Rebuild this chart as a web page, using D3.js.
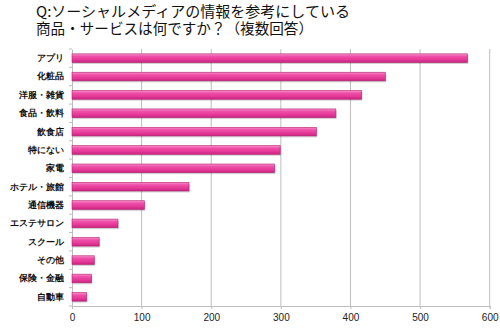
<!DOCTYPE html>
<html><head><meta charset="utf-8">
<script src="https://cdn.jsdelivr.net/npm/d3@7/dist/d3.min.js"></script>
<style>
body{margin:0;background:#fff;}
svg{display:block;font-family:"Noto Sans CJK JP","Noto Sans",sans-serif;}
</style></head><body>
<svg id="c" width="500" height="328"></svg>
<script>
const categories = ["アプリ","化粧品","洋服・雑貨","食品・飲料","飲食店","特にない","家電","ホテル・旅館","通信機器","エステサロン","スクール","その他","保険・金融","自動車"];
const values = [568,450,416,379,351,299,291,168,104,66,39,32,28,21];
const xTicks = [0,100,200,300,400,500,600];
const titleLines = ["Q:ソーシャルメディアの情報を参考にしている","商品・サービスは何ですか？（複数回答）"];

const svg = d3.select("#c");
const pL = 72, pR = 489.7, pT = 49, pB = 306;
const x = d3.scaleLinear().domain([0,600]).range([pL,pR]);
const y = d3.scaleBand().domain(categories).range([pT,pB]).paddingInner(0.53).paddingOuter(0.265);

const defs = svg.append("defs");
const g = defs.append("linearGradient").attr("id","pk").attr("x1",0).attr("y1",0).attr("x2",0).attr("y2",1);
g.append("stop").attr("offset","0%").attr("stop-color","#f590c8");
g.append("stop").attr("offset","30%").attr("stop-color","#ee4fa8");
g.append("stop").attr("offset","70%").attr("stop-color","#e43795");
g.append("stop").attr("offset","100%").attr("stop-color","#c42380");

// title (one text, two lines)
const title = svg.append("text").attr("font-size",14.6).attr("fill","#111");
const lens = [314,277];
title.selectAll("tspan").data(titleLines).join("tspan")
  .attr("x",36).attr("y",(d,i)=>16.5+i*17.5)
  .attr("textLength",(d,i)=>lens[i]).attr("lengthAdjust","spacingAndGlyphs")
  .text(d=>d);

// gridlines
svg.append("g").selectAll("line").data(xTicks.filter(d=>d>0)).join("line")
  .attr("x1",d=>x(d)).attr("x2",d=>x(d)).attr("y1",pT).attr("y2",pB)
  .attr("stroke","#bdbdbd").attr("stroke-width",1);

// bottom axis
const xa = svg.append("g").attr("transform",`translate(0,${pB})`)
  .call(d3.axisBottom(x).tickValues(xTicks).tickSize(3).tickPadding(5));
xa.select(".domain").attr("stroke","#bdbdbd");
xa.selectAll(".tick line").attr("stroke","#bdbdbd");
xa.selectAll("text").attr("font-size",10).attr("fill","#222").attr("font-family","Liberation Sans, Arial, sans-serif");

// left axis
const ya = svg.append("g").attr("transform",`translate(${pL},0)`)
  .call(d3.axisLeft(y).tickSize(0).tickPadding(8.5));
ya.select(".domain").attr("stroke","#bdbdbd");
ya.selectAll("text").attr("font-size",9.2).attr("font-weight","bold").attr("fill","#111");
// band boundary ticks
const bounds = d3.range(categories.length+1).map(i=> pT + i*(pB-pT)/categories.length);
svg.append("g").selectAll("line").data(bounds).join("line")
  .attr("x1",pL-3).attr("x2",pL).attr("y1",d=>d).attr("y2",d=>d)
  .attr("stroke","#bdbdbd");

// bar shadows
svg.append("g").selectAll("rect").data(values).join("rect")
  .attr("x",x(0)+1).attr("y",(d,i)=>y(categories[i])+1.5)
  .attr("width",d=>x(d)-x(0)).attr("height",y.bandwidth())
  .attr("fill","#000").attr("opacity",0.18);
// bars
svg.append("g").selectAll("rect").data(values).join("rect")
  .attr("x",x(0)).attr("y",(d,i)=>y(categories[i]))
  .attr("width",d=>x(d)-x(0)).attr("height",y.bandwidth())
  .attr("fill","url(#pk)").attr("stroke","#b81f73").attr("stroke-width",0.6);
</script></body></html>
